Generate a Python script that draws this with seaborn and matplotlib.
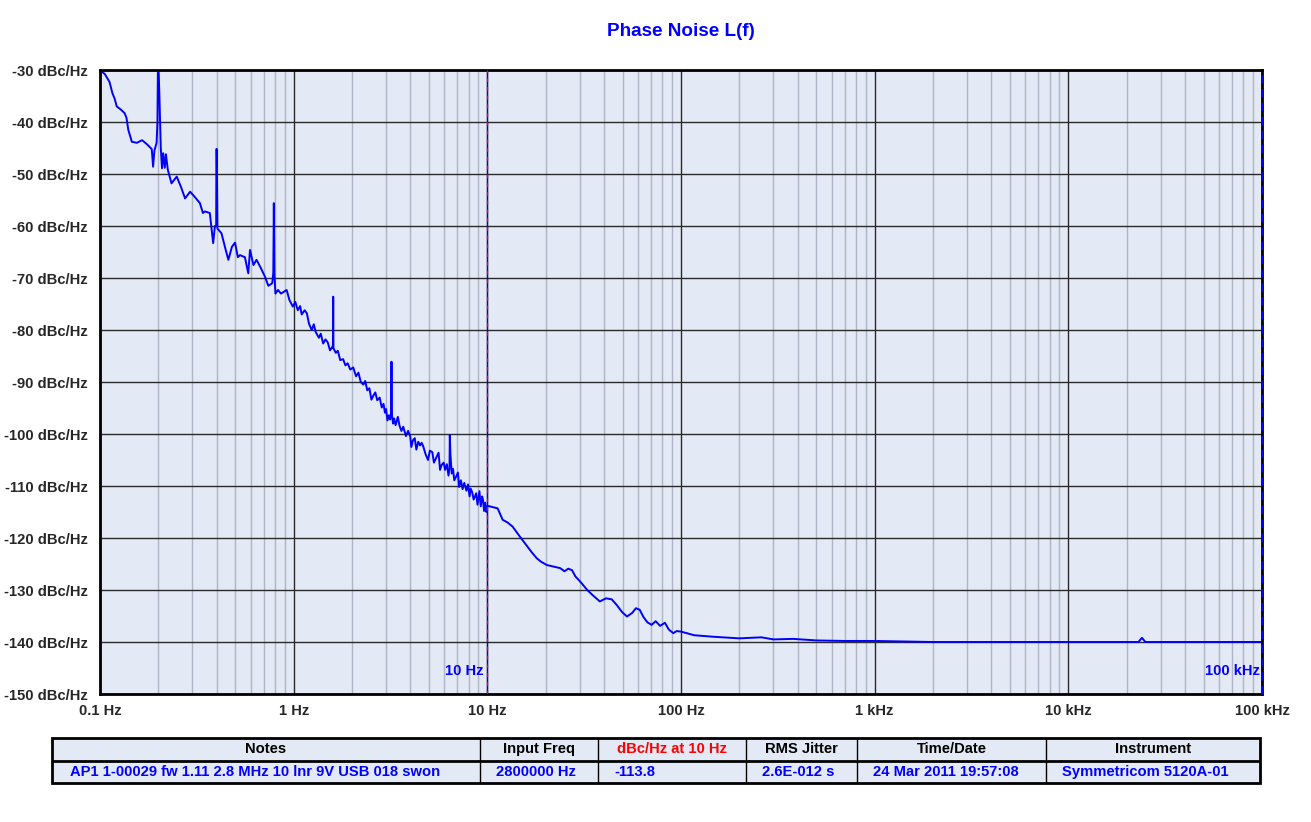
import numpy as np
import pandas as pd
import matplotlib
matplotlib.use("Agg")
import matplotlib.pyplot as plt
import seaborn as sns

# data
freq_hz = [
    0.100, 0.106, 0.112, 0.116, 0.119, 0.122, 0.128, 0.134, 0.137, 0.140,
    0.146, 0.155, 0.165, 0.175, 0.185, 0.188, 0.191, 0.196, 0.198, 0.199,
    0.201, 0.203, 0.206, 0.209, 0.212, 0.216, 0.219, 0.224, 0.234, 0.249,
    0.262, 0.275, 0.292, 0.310, 0.328, 0.340, 0.348, 0.369, 0.378, 0.384,
    0.392, 0.398, 0.399, 0.401, 0.404, 0.424, 0.445, 0.460, 0.480, 0.498,
    0.515, 0.528, 0.560, 0.583, 0.595, 0.620, 0.643, 0.675, 0.710, 0.740,
    0.775, 0.785, 0.790, 0.795, 0.805, 0.830, 0.860, 0.920, 0.950, 0.990,
    1.02, 1.05, 1.08, 1.10, 1.14, 1.17, 1.20, 1.24, 1.27, 1.30,
    1.35, 1.38, 1.42, 1.46, 1.50, 1.54, 1.57, 1.595, 1.60, 1.605,
    1.65, 1.69, 1.74, 1.80, 1.85, 1.90, 1.96, 2.03, 2.10, 2.16,
    2.22, 2.29, 2.34, 2.40, 2.46, 2.52, 2.58, 2.64, 2.70, 2.78,
    2.85, 2.91, 2.96, 3.00, 3.05, 3.10, 3.15, 3.18, 3.20, 3.22,
    3.26, 3.30, 3.36, 3.45, 3.52, 3.60, 3.68, 3.80, 3.90, 4.00,
    4.05, 4.13, 4.22, 4.30, 4.40, 4.50, 4.58, 4.67, 4.80, 4.94,
    5.05, 5.20, 5.30, 5.47, 5.60, 5.70, 5.80, 5.95, 6.05, 6.18,
    6.30, 6.38, 6.40, 6.45, 6.55, 6.65, 6.75, 6.90, 7.05, 7.15,
    7.30, 7.45, 7.60, 7.80, 7.95, 8.10, 8.20, 8.35, 8.50, 8.76,
    8.90, 9.10, 9.25, 9.40, 9.50, 9.62, 9.75, 9.88, 10.0, 10.5,
    11.3, 12.0, 12.7, 13.5, 14.7, 16.0, 17.0, 18.0, 19.0, 20.3,
    22.0, 23.8, 25.0, 26.2, 27.4, 28.5, 29.7, 31.0, 32.8, 35.0,
    38.1, 41.0, 43.9, 46.6, 49.5, 52.6, 56.0, 58.5, 61.2, 64.0,
    67.0, 70.5, 74.0, 78.0, 82.6, 86.5, 91.2, 95.0, 100, 117,
    148, 200, 260, 300, 380, 500, 700, 1000, 2000, 5000,
    10000, 23000, 24000, 25000, 100000,
]
noise_dbc = [
    -30.0, -30.8, -32.3, -34.5, -35.5, -37.0, -37.6, -38.3, -39.2, -41.5,
    -43.8, -44.0, -43.5, -44.3, -45.2, -48.6, -45.5, -44.0, -40.0, -30.5,
    -30.5, -36.0, -45.0, -48.9, -46.0, -48.8, -46.2, -49.2, -51.8, -50.5,
    -52.5, -54.7, -53.4, -54.5, -55.6, -57.5, -57.2, -57.5, -61.0, -63.3,
    -60.0, -60.0, -45.2, -45.2, -60.5, -61.4, -64.5, -66.5, -64.0, -63.2,
    -66.0, -65.6, -66.0, -69.1, -64.6, -67.5, -66.5, -68.0, -69.7, -71.5,
    -71.0, -69.0, -55.6, -69.0, -73.0, -72.3, -73.0, -72.3, -74.2, -75.5,
    -74.6, -76.2, -75.4, -77.0, -76.2, -76.8, -78.8, -80.0, -78.9, -80.4,
    -81.5, -80.7, -82.6, -81.8, -82.4, -83.9, -83.5, -83.0, -73.6, -83.5,
    -84.4, -84.0, -85.8, -85.6, -86.8, -86.4, -87.6, -87.2, -88.9, -88.2,
    -90.0, -90.5, -89.8, -91.6, -91.2, -93.4, -92.6, -92.0, -93.5, -93.0,
    -94.9, -94.2, -95.9, -95.2, -97.4, -96.4, -97.2, -96.0, -86.1, -96.5,
    -98.0, -97.0, -98.3, -96.7, -98.4, -99.4, -98.6, -100.4, -99.4, -100.5,
    -102.5, -101.2, -100.8, -103.0, -101.5, -102.2, -101.7, -102.4, -103.9, -105.0,
    -103.2, -103.5, -105.5, -104.4, -103.6, -106.9, -106.0, -105.5, -106.9, -105.8,
    -108.0, -106.5, -100.2, -104.0, -107.6, -106.7, -108.9, -108.2, -107.4, -110.2,
    -108.9, -110.6, -109.4, -110.9, -109.7, -112.0, -110.5, -111.2, -112.6, -111.4,
    -113.6, -111.0, -113.9, -112.0, -112.7, -114.8, -113.2, -115.0, -113.8, -114.0,
    -114.3, -116.5, -117.0, -117.8, -119.7, -121.5, -122.8, -123.9, -124.6, -125.2,
    -125.5, -125.8, -126.4, -125.9, -126.2, -127.4, -128.1, -128.9, -130.0, -131.0,
    -132.2, -131.6, -131.8, -132.9, -134.2, -135.1, -134.4, -133.5, -133.8, -135.2,
    -136.2, -136.7, -136.0, -136.9, -136.3, -137.6, -138.3, -137.9, -138.0, -138.7,
    -139.0, -139.3, -139.1, -139.5, -139.4, -139.7, -139.8, -139.8, -140.0, -140.0,
    -140.0, -140.0, -139.2, -140.0, -140.0,
]

x_ticks = [0.1, 1, 10, 100, 1e3, 1e4, 1e5]
x_labels = ["0.1 Hz", "1 Hz", "10 Hz", "100 Hz", "1 kHz", "10 kHz", "100 kHz"]
y_ticks = list(range(-30, -151, -10))
y_labels = [f"{v} dBc/Hz" for v in y_ticks]

table_headers = ["Notes", "Input Freq", "dBc/Hz at 10 Hz", "RMS Jitter",
                 "Time/Date", "Instrument"]
table_values = ["AP1 1-00029 fw 1.11 2.8 MHz 10 lnr 9V USB 018 swon",
                "2800000 Hz", "-113.8", "2.6E-012 s",
                "24 Mar 2011 19:57:08", "Symmetricom 5120A-01"]

df = pd.DataFrame({"freq": freq_hz, "dbc": noise_dbc})

bg = "#e3e9f5"
sns.set_theme(style="white")
plt.rcParams["font.family"] = ["Liberation Sans", "DejaVu Sans"]
plt.rcParams["font.weight"] = "bold"

W, H = 1311, 822
fig = plt.figure(figsize=(W / 100, H / 100), dpi=100)
ax = fig.add_axes([100 / W, 1 - 694 / H, (1262 - 100) / W, (694 - 70) / H])
ax.set_facecolor(bg)

sns.lineplot(data=df, x="freq", y="dbc", ax=ax, color="#0000ff",
             linewidth=1.4, estimator=None, sort=False)

ax.set_xscale("log")
ax.set_xlim(0.1, 1e5)
ax.set_ylim(-150, -30)
ax.set_xticks(x_ticks)
ax.set_xticklabels(x_labels, fontsize=10.6, fontweight="bold")
ax.set_yticks(y_ticks)
ax.set_yticklabels(y_labels, fontsize=10.6, fontweight="bold")
ax.xaxis.set_minor_locator(matplotlib.ticker.LogLocator(base=10, subs=np.arange(2, 10)))
ax.xaxis.set_minor_formatter(matplotlib.ticker.NullFormatter())
ax.tick_params(axis="both", which="both", length=0)
ax.tick_params(axis="x", pad=7)
ax.tick_params(axis="y", pad=9)
ax.set_xlabel("")
ax.set_ylabel("")

ax.grid(True, which="minor", axis="x", color="#aeb6c6", linewidth=1.0)
ax.grid(True, which="major", axis="both", color="#2a2a2a", linewidth=1.0)
ax.set_axisbelow(True)
for side, sp in ax.spines.items():
    sp.set_visible(True)
    sp.set_color("black")
    sp.set_linewidth(2.0)

# 10 Hz marker (red/blue dashes) and 100 kHz marker
ax.axvline(10, color="#0000ff", linewidth=0.9, zorder=3)
ax.axvline(10, color="#ff0000", linewidth=0.9, linestyle=(0, (3, 4)), zorder=3)
ax.axvline(1e5 * 0.995, color="#0000ff", linewidth=2.0, linestyle=(0, (3, 2)),
           zorder=4, clip_on=False)
ax.text(9.6, -145.6, "10 Hz", color="#0000ff", fontsize=10.6,
        fontweight="bold", ha="right", va="center")
ax.text(1e5 * 0.97, -145.6, "100 kHz", color="#0000ff", fontsize=10.6,
        fontweight="bold", ha="right", va="center")

fig.text(681 / W, 1 - 32 / H, "Phase Noise L(f)", color="#0000ff",
         fontsize=13.6, fontweight="bold", ha="center", va="center")

# info table under the chart
tx0, tx1 = 52, 1260
tax = fig.add_axes([tx0 / W, 1 - 783 / H, (tx1 - tx0) / W, (783 - 738) / H])
tax.set_xlim(tx0, tx1)
tax.set_ylim(0, 2)
tax.axis("off")
tax.add_patch(plt.Rectangle((tx0, 0), tx1 - tx0, 2, facecolor=bg,
                            edgecolor="black", linewidth=2.0, clip_on=False))
tax.plot([tx0, tx1], [1, 1], color="black", linewidth=2.0)
col_edges = [tx0, 480, 598, 746, 857, 1046, tx1]
for xe in col_edges[1:-1]:
    tax.plot([xe, xe], [0, 2], color="black", linewidth=1.0)
for i, (head, val) in enumerate(zip(table_headers, table_values)):
    xc = (col_edges[i] + col_edges[i + 1]) / 2
    tax.text(xc, 1.5, head, ha="center", va="center", fontsize=10.6,
             fontweight="bold", color="#ff0000" if i == 2 else "black")
    if i == 0:
        tax.text(70, 0.5, val, ha="left", va="center", fontsize=10.6,
                 fontweight="bold", color="#0000ff")
    else:
        tax.text(col_edges[i] + 16, 0.5, val, ha="left", va="center",
                 fontsize=10.6, fontweight="bold", color="#0000ff")

fig.savefig("out.png", dpi=100, facecolor="white")
